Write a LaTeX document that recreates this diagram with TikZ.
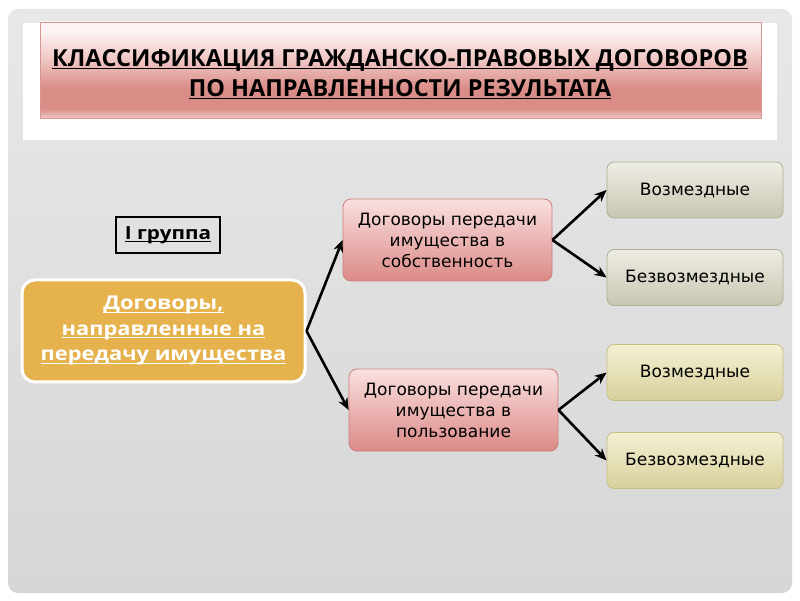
\documentclass[tikz,border=0pt]{standalone}
\usepackage{fontspec}
\setmainfont{DejaVu Sans}
\newfontfamily\headfont{Open Sans}
\newfontfamily\widefont{Open Sans}[FakeStretch=1.15]
\usetikzlibrary{arrows.meta}
\definecolor{PanelTop}{RGB}{232,232,232}
\definecolor{PanelBot}{RGB}{214,214,214}
\definecolor{TitleTop}{RGB}{253,243,243}
\definecolor{TitleSoft}{RGB}{240,200,197}
\definecolor{TitleMid}{RGB}{218,140,134}
\definecolor{TitleLow}{RGB}{240,200,196}
\definecolor{TitleLine}{RGB}{214,150,146}
\definecolor{PinkTop}{RGB}{249,224,223}
\definecolor{PinkBot}{RGB}{220,138,135}
\definecolor{PinkLine}{RGB}{204,126,122}
\definecolor{GoldClr}{RGB}{229,178,78}
\definecolor{GreyTop}{RGB}{238,237,228}
\definecolor{GreyBot}{RGB}{200,198,176}
\definecolor{GreyLine}{RGB}{176,173,146}
\definecolor{OliveTop}{RGB}{244,241,212}
\definecolor{OliveBot}{RGB}{215,208,156}
\definecolor{OliveLine}{RGB}{198,190,132}
\pgfdeclareverticalshading{titleshade}{100bp}{color(0bp)=(TitleLow); color(25bp)=(TitleLow); color(30bp)=(TitleMid); color(40bp)=(TitleMid); color(56bp)=(TitleSoft); color(70bp)=(TitleTop); color(100bp)=(TitleTop)}
% underline close to the baseline
\newcommand{\ulined}[1]{\sbox0{#1}\rlap{\rule[-3pt]{\wd0}{1.2pt}}\usebox0}

\begin{document}
\begin{tikzpicture}[x=1pt,y=1pt,
  pinkbox/.style={draw=PinkLine, line width=0.8pt, rounded corners=8pt, top color=PinkTop, bottom color=PinkBot,
    minimum width=209pt, minimum height=82pt, align=center, font=\fontsize{17}{21}\selectfont},
  greybox/.style={draw=GreyLine, line width=0.8pt, rounded corners=7pt, top color=GreyTop, bottom color=GreyBot,
    minimum width=176pt, minimum height=56pt, font=\fontsize{17}{20}\selectfont},
  olivebox/.style={greybox, draw=OliveLine, top color=OliveTop, bottom color=OliveBot},
  link/.style={line width=2.6pt, -{Stealth[length=12pt,width=10pt]}}]
\useasboundingbox (0,0) rectangle (800,600);
\fill[white] (0,0) rectangle (800,600);
\shade[top color=PanelTop, bottom color=PanelBot, rounded corners=10pt] (8,7) rectangle (792,591);
\fill[white] (23,460) rectangle (777,577);

% title
\node[draw=TitleLine, shading=titleshade, minimum width=721pt, minimum height=96pt] (title) at (400.5,530) {};
\node[align=center, font=\headfont\bfseries\fontsize{23.5}{30}\selectfont] (titletext) at (400,526)
  {\ulined{КЛАССИФИКАЦИЯ ГРАЖДАНСКО-ПРАВОВЫХ ДОГОВОРОВ}\\\ulined{ПО НАПРАВЛЕННОСТИ РЕЗУЛЬТАТА}};

% group label and root
\node[draw, line width=1.2pt, minimum width=104pt, minimum height=36pt, font=\widefont\bfseries\fontsize{18}{20}\selectfont]
  (group) at (168,365) {\ulined{I группа}};
\node[draw=white, line width=3pt, fill=GoldClr, rounded corners=13pt, minimum width=283pt, minimum height=102pt,
  text=white, align=center, font=\widefont\bfseries\fontsize{19}{25.5}\selectfont]
  (root) at (163.5,269) {\ulined{Договоры,}\\\ulined{направленные на}\\\ulined{передачу имущества}};

% second level
\node[pinkbox] (own) at (447.5,360) {Договоры передачи\\имущества в\\собственность};
\node[pinkbox] (use) at (453.5,190) {Договоры передачи\\имущества в\\пользование};

% third level
\node[greybox] (ownpaid) at (695,410) {Возмездные};
\node[greybox] (ownfree) at (695,322.5) {Безвозмездные};
\node[olivebox] (usepaid) at (695,227.5) {Возмездные};
\node[olivebox] (usefree) at (695,139.5) {Безвозмездные};

\draw[link] (root.east) -- (own.west);
\draw[link] (root.east) -- (use.west);
\draw[link] (own.east) -- (ownpaid.west);
\draw[link] (own.east) -- (ownfree.west);
\draw[link] (use.east) -- (usepaid.west);
\draw[link] (use.east) -- (usefree.west);

\end{tikzpicture}
\end{document}
